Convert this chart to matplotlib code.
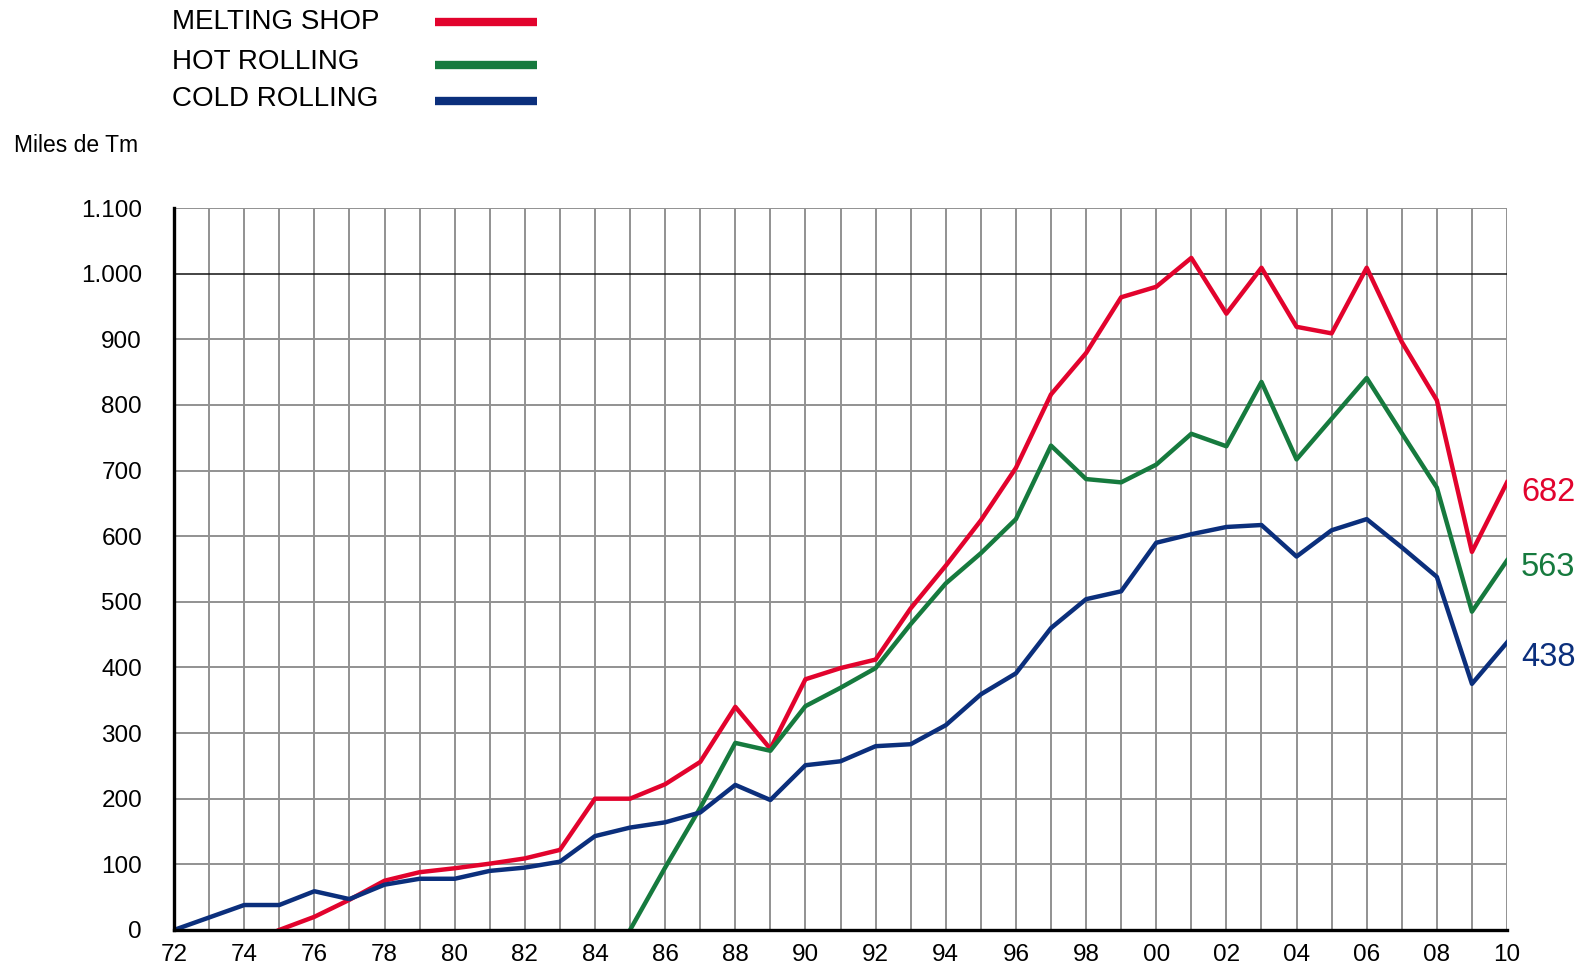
import numpy as np
import matplotlib
matplotlib.use('Agg')
import matplotlib.pyplot as plt

plt.rcParams['font.family'] = ['Liberation Sans', 'DejaVu Sans']

years = list(range(1972, 2011))
# melting shop starts 1975, hot rolling 1985, cold rolling 1972
melting_years = list(range(1975, 2011))
melting = [0, 20, 46, 75, 88, 94, 101, 109, 122, 200, 200, 222, 256, 340, 276, 382, 399, 412,
           490, 555, 624, 704, 816, 879, 964, 980, 1024, 939, 1009, 919, 909, 1009, 896, 807,
           576, 682]
hot_years = list(range(1985, 2011))
hot = [0, 95, 186, 285, 273, 341, 369, 399, 466, 528, 574, 626, 738, 687, 682, 709, 756, 737,
       835, 717, 779, 841, 757, 674, 485, 563]
cold_years = list(range(1972, 2011))
cold = [0, 19, 38, 38, 59, 47, 69, 78, 78, 90, 95, 104, 143, 156, 164, 179, 221, 198, 251, 257,
        280, 283, 312, 359, 391, 460, 504, 516, 590, 603, 614, 617, 569, 609, 626, 583, 538,
        375, 438]

names = ['MELTING SHOP', 'HOT ROLLING', 'COLD ROLLING']
colors = ['#E2032D', '#167A3E', '#0B2F7C']
end_labels = ['682', '563', '438']

xtick_years = list(range(1972, 2011, 2))
xtick_labels = ['%02d' % (y % 100) for y in xtick_years]
yticks = list(range(0, 1101, 100))
ytick_labels = ['0', '100', '200', '300', '400', '500', '600', '700', '800', '900', '1.000', '1.100']

fig = plt.figure(figsize=(15.85, 9.68), dpi=100)
ax = fig.add_axes([0.1098, 0.0393, 0.8410, 0.7458])

# grid
for y in years:
    ax.axvline(y, color='#929292', lw=1.4, zorder=1)
for v in yticks:
    if v == 1000:
        ax.axhline(v, color='#111111', lw=1.1, zorder=1)
    else:
        ax.axhline(v, color='#929292', lw=1.4, zorder=1)

ax.plot(melting_years, melting, color=colors[0], lw=3.2, zorder=3)
ax.plot(hot_years, hot, color=colors[1], lw=3.2, zorder=3)
ax.plot(cold_years, cold, color=colors[2], lw=3.2, zorder=3)

ax.set_xlim(1972, 2010)
ax.set_ylim(0, 1100)
ax.set_xticks(xtick_years)
ax.set_xticklabels(xtick_labels, fontsize=17.5)
ax.set_yticks(yticks)
ax.set_yticklabels(ytick_labels, fontsize=17.5)
ax.tick_params(axis='both', length=0)
ax.tick_params(axis='x', pad=10)
ax.tick_params(axis='y', pad=23)

for s in ['top', 'right']:
    ax.spines[s].set_visible(False)
ax.spines['left'].set_linewidth(2.4)
ax.spines['bottom'].set_linewidth(2.4)
ax.spines['left'].set_zorder(4)
ax.spines['bottom'].set_zorder(4)

# end labels
offsets = [-7, -5, -11]
for val, lab, c, dy in zip([melting[-1], hot[-1], cold[-1]], end_labels, colors, offsets):
    ax.annotate(lab, xy=(2010, val), xytext=(10, dy), textcoords='offset points',
                color=c, fontsize=23.5, va='center', ha='left', annotation_clip=False)

# legend drawn by hand
leg_y = [1 - 22 / 968, 1 - 62 / 968, 1 - 99 / 968]
line_y = [1 - 22 / 968, 1 - 65 / 968, 1 - 101 / 968]
for name, c, ty, ly in zip(names, colors, leg_y, line_y):
    fig.text(172 / 1585, ty, name, fontsize=20, va='center', ha='left')
    fig.add_artist(plt.Line2D([435 / 1585, 537 / 1585], [ly, ly], color=c, lw=6,
                              solid_capstyle='butt', transform=fig.transFigure))

fig.text(14 / 1585, 1 - 145 / 968, 'Miles de Tm', fontsize=16.5, va='center', ha='left')

fig.savefig('out.png', dpi=100)
